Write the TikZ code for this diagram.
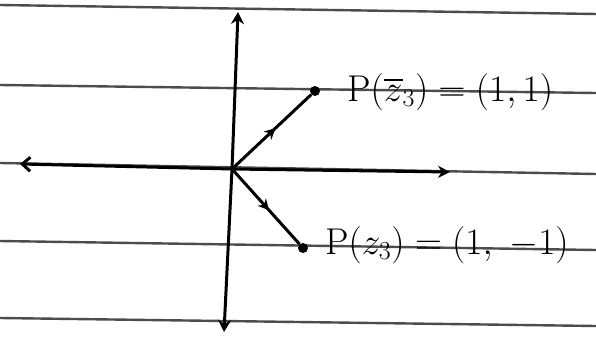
\documentclass[tikz,border=0pt]{standalone}
\usepackage{amsmath}
\usepackage{graphicx}
\usepackage{tikz}
\usetikzlibrary{arrows.meta,decorations.markings}

\begin{document}
\begin{tikzpicture}[x=1pt, y=-1pt,
    rule/.style={black!70, line width=2.4pt},
    axis/.style={black, line width=3pt},
    vec/.style={black, line width=3pt, postaction={decorate},
        decoration={markings, mark=at position 0.55 with {\arrow{Stealth[length=11pt,width=11pt]}}}},
    dot/.style={circle, fill=black, inner sep=0pt, minimum size=10pt},
    lbl/.style={anchor=west, inner sep=0pt, font=\fontsize{24}{28}\selectfont}]
    \useasboundingbox (0,0) rectangle (596,337);
    \fill[white] (0,0) rectangle (596,337);
    % lines of the paper
    \foreach \ya/\yb in {5/14, 85/93, 163/174, 241/250, 318/326}
        \draw[rule] (0,\ya) -- (596,\yb);
    % axes
    \coordinate (O) at (232,169);
    \coordinate (xl) at (20,164);
    \coordinate (xr) at (450,172);
    \coordinate (yt) at (238,12);
    \coordinate (yb) at (224,332);
    \draw[axis, -{Straight Barb[length=8pt,width=14pt]}] (O) -- (xl);
    \draw[axis, -{Stealth[length=12pt,width=12pt]}] (O) -- (xr);
    \draw[axis, -{Stealth[length=12pt,width=13pt]}] (O) -- (yt);
    \draw[axis, -{Stealth[length=12pt,width=13pt]}] (O) -- (yb);
    % the two points
    \node[dot] (p1) at (315,91) {};
    \node[dot] (p2) at (303,248) {};
    \draw[vec] (O) -- (p1);
    \draw[vec] (O) -- (p2);
    \node[lbl] (l1) at (347,92) {\scalebox{1.5}{$\mathrm{P}(\overline{z}_3)=(1,1)$}};
    \node[lbl] (l2) at (325,245) {\scalebox{1.5}{$\mathrm{P}(z_3)\;{=}\;(1,\;{-}1)$}};
\end{tikzpicture}
\end{document}
